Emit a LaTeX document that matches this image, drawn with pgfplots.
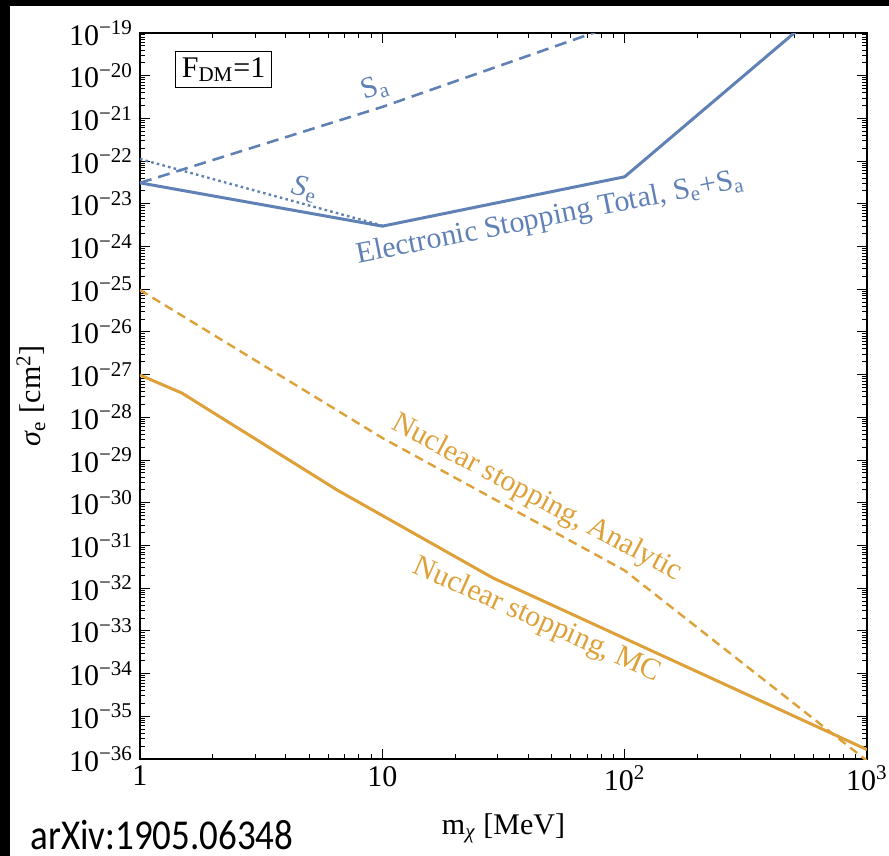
\documentclass[border=0pt]{standalone}
\usepackage{fontspec}
\setmainfont{Liberation Serif}
\newfontfamily\arxivfont{Carlito}
\usepackage{graphicx}
\usepackage{pgfplots}
\pgfplotsset{compat=1.18}
\definecolor{mblue}{rgb}{0.375,0.505,0.715}
\definecolor{morange}{rgb}{0.870,0.630,0.225}
\newcommand\fs{\fontsize{15}{18}\selectfont}

\begin{document}
\begin{tikzpicture}
% minor ticks at 2..9 in every decade
\def\yminor{}
\foreach \e in {-36,...,-20}{\foreach \m in {2,...,9}{\xdef\yminor{\yminor\m e\e,}}}
\xdef\yminor{\yminor 9e-20}
\useasboundingbox (-70pt,-48.5pt) rectangle (374.5pt,379.5pt);
% black frame strips of the screenshot
\fill[black] (-70pt,-48.5pt) rectangle (-65pt,379.5pt);
\fill[black] (-70pt,376.5pt) rectangle (374.5pt,379.5pt);
\begin{axis}[
  at={(0,0)}, anchor=south west,
  scale only axis, width=363.5pt, height=363pt,
  xmode=log, ymode=log, log basis x=10, log basis y=10,
  xmin=1, xmax=1000, ymin=1e-36, ymax=1e-19,
  xtickten={0,1,2,3},
  ytickten={-36,-35,-34,-33,-32,-31,-30,-29,-28,-27,-26,-25,-24,-23,-22,-21,-20,-19},
  minor xtick={2,3,4,5,6,7,8,9,20,30,40,50,60,70,80,90,200,300,400,500,600,700,800,900},
  minor ytick/.expanded={\yminor},
  xticklabels={1,10,10\textsuperscript{2},10\textsuperscript{3}},
  yticklabels={10\textsuperscript{−36},10\textsuperscript{−35},10\textsuperscript{−34},10\textsuperscript{−33},10\textsuperscript{−32},10\textsuperscript{−31},10\textsuperscript{−30},10\textsuperscript{−29},10\textsuperscript{−28},10\textsuperscript{−27},10\textsuperscript{−26},10\textsuperscript{−25},10\textsuperscript{−24},10\textsuperscript{−23},10\textsuperscript{−22},10\textsuperscript{−21},10\textsuperscript{−20},10\textsuperscript{−19}},
  xtick pos=both, ytick pos=both,
  xticklabel pos=lower, yticklabel pos=left,
  tick align=inside,
  major tick length=5pt, minor tick length=2.5pt,
  tick style={black, line width=0.5pt},
  axis line style={line width=0.6pt},
  tick label style={font=\fs},
  xlabel={m\textsubscript{\textit{χ}} [MeV]},
  ylabel={\textit{σ}\textsubscript{e} [cm\textsuperscript{2}]},
  label style={font=\fs},
  xlabel style={at={(axis description cs:0.5,-0.095)}, anchor=center},
  ylabel style={at={(axis description cs:-0.15,0.5)}, anchor=center},
  every axis plot/.append style={line join=round},
]
% electronic stopping total
\addplot[mblue, line width=1.5pt] coordinates {(1,3.1e-23) (10,3.0e-24) (100,4.3e-23) (1000,2.8e-18)};
% S_a
\addplot[mblue, line width=1.3pt, dash pattern=on 6pt off 3.5pt] coordinates {(1,3.1e-23) (10,1.86e-21) (74,1e-19) (100,1.9e-19)};
% S_e
\addplot[mblue, line width=1.2pt, dash pattern=on 1.3pt off 1.6pt] coordinates {(1,1.12e-22) (10,3.1e-24)};
% nuclear stopping, MC
\addplot[morange, line width=1.5pt] coordinates {(1,9.8e-28) (1.49,3.7e-28) (6.5,2.0e-30) (28.6,1.74e-32) (1000,1.66e-36)};
% nuclear stopping, analytic
\addplot[morange, line width=1.2pt, dash pattern=on 4.5pt off 2.8pt] coordinates {(1,9.6e-26) (10,3.3e-29) (100,2.6e-32) (1000,9.1e-37)};

\node[mblue, font=\fs, rotate=18] at (axis description cs:0.323,0.924) {S\textsubscript{a}};
\node[mblue, font=\fs, rotate=-14] at (axis description cs:0.227,0.785) {\textit{S}\textsubscript{e}};
\node[mblue, font=\fs, rotate=11.2] at (axis description cs:0.564,0.745) {Electronic Stopping Total, S\textsubscript{e}+S\textsubscript{a}};
\node[morange, font=\fs, rotate=-28] at (axis description cs:0.546,0.359) {Nuclear stopping, Analytic};
\node[morange, font=\fs, rotate=-24] at (axis description cs:0.546,0.191) {Nuclear stopping, MC};
\node[draw=black, line width=0.6pt, inner sep=3pt, fill=white, font=\fs] at (axis description cs:0.115,0.950) {F\textsubscript{DM}=1};
\end{axis}
\node[anchor=base west, inner sep=0pt, font=\arxivfont\fontsize{18.5}{21}\selectfont] at (-55pt,-45.5pt) {\scalebox{1}[1.15]{arXiv:1905.06348}};
\end{tikzpicture}
\end{document}
